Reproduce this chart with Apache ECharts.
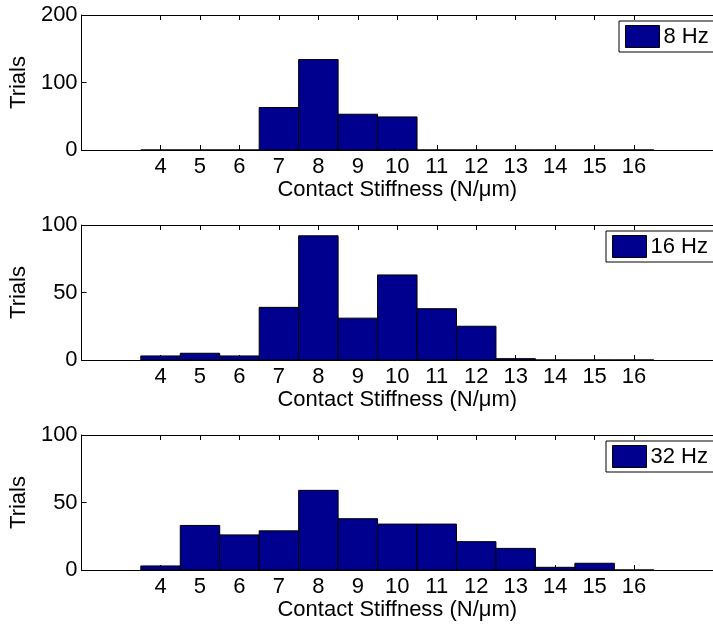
<!DOCTYPE html>
<html><head><meta charset="utf-8">
<script src="https://cdn.jsdelivr.net/npm/echarts@6/dist/echarts.min.js"></script>
<style>html,body{margin:0;padding:0;background:#fff}#c{width:713px;height:626px}</style>
</head><body><div id="c"></div>
<script>
const bins = [4,5,6,7,8,9,10,11,12,13,14,15,16];
const trials8Hz = [0,0,0,63,134,53,49,0,0,0,0,0,0];
const trials16Hz = [3,5,3,39,92,31,63,38,25,1,0,0,0];
const trials32Hz = [3,33,26,29,59,38,34,34,21,16,2,5,0];
const xTickLabels = [4,5,6,7,8,9,10,11,12,13,14,15,16];
const seriesNames = ['8 Hz','16 Hz','32 Hz'];
const yMaxes = [200,100,100];
const yIntervals = [100,50,50];
const xName = 'Contact Stiffness (N/\u03bcm)';
const yName = 'Trials';

const FONT = "'Liberation Sans', Arial, Helvetica, sans-serif";
const FS = 22;
const BAR = '#00008F';
const tops = [15,225,435];
const legendTops = [21,231,441];
const legendLefts = [619,606,606];
const allData = [trials8Hz, trials16Hz, trials32Hz];

const grid = [], xAxis = [], yAxis = [], series = [], legend = [];
for (let k = 0; k < 3; k++) {
  grid.push({left:81, top:tops[k], width:639, height:135, containLabel:false});
  const xa = {
    type:'value', gridIndex:k, min:2, max:18, interval:1,
    axisLine:{show:true, onZero:false, lineStyle:{color:'#000', width:1}},
    axisTick:{show:true, inside:true, length:5, customValues:xTickLabels, lineStyle:{color:'#000'}},
    splitLine:{show:false},
  };
  xAxis.push(Object.assign({}, xa, {
    position:'bottom',
    name:xName, nameLocation:'middle', nameGap:27,
    nameTextStyle:{color:'#000', fontFamily:FONT, fontSize:FS},
    axisLabel:{show:true, customValues:xTickLabels, color:'#000', fontFamily:FONT, fontSize:FS, margin:6}
  }));
  xAxis.push(Object.assign({}, xa, {position:'top', axisLabel:{show:false}}));
  yAxis.push({
    type:'value', gridIndex:k, min:0, max:yMaxes[k], interval:yIntervals[k],
    position:'left',
    name:yName, nameLocation:'middle', nameGap:45, nameRotate:90,
    nameTextStyle:{color:'#000', fontFamily:FONT, fontSize:FS},
    axisLine:{show:true, lineStyle:{color:'#000', width:1}},
    axisTick:{show:true, inside:true, length:5, lineStyle:{color:'#000'}},
    axisLabel:{color:'#000', fontFamily:FONT, fontSize:FS, margin:4},
    splitLine:{show:false}
  });
  series.push({
    type:'custom', name:seriesNames[k], xAxisIndex:2*k, yAxisIndex:k,
    itemStyle:{color:BAR, borderColor:'#000', borderWidth:1},
    encode:{x:0, y:1},
    data: bins.map((b,i)=>[b, allData[k][i]]),
    renderItem(params, api){
      const x = api.value(0), y = api.value(1);
      const p0 = api.coord([x-0.5, y]);
      const p1 = api.coord([x+0.5, 0]);
      return {type:'rect', shape:{x:p0[0], y:p0[1], width:p1[0]-p0[0], height:p1[1]-p0[1]},
        style:{fill:BAR, stroke:'#000', lineWidth:1}};
    }
  });
  legend.push({
    data:[{name:seriesNames[k], icon:'rect'}],
    left:legendLefts[k], top:legendTops[k],
    orient:'vertical',
    itemWidth:34, itemHeight:22, itemGap:0,
    padding:[4,12,4,6],
    borderColor:'#000', borderWidth:1, backgroundColor:'#fff',
    itemStyle:{color:BAR, borderColor:'#000', borderWidth:1},
    textStyle:{color:'#000', fontFamily:FONT, fontSize:FS, padding:[0,0,0,-1]},
    selectedMode:false
  });
}
const chart = echarts.init(document.getElementById('c'), null, {renderer:'canvas'});
chart.setOption({
  animation:false,
  backgroundColor:'#fff',
  grid, xAxis: xAxis.map((a,i)=>Object.assign(a,{gridIndex:Math.floor(i/2)})), yAxis, series, legend
});
</script>
</body></html>
